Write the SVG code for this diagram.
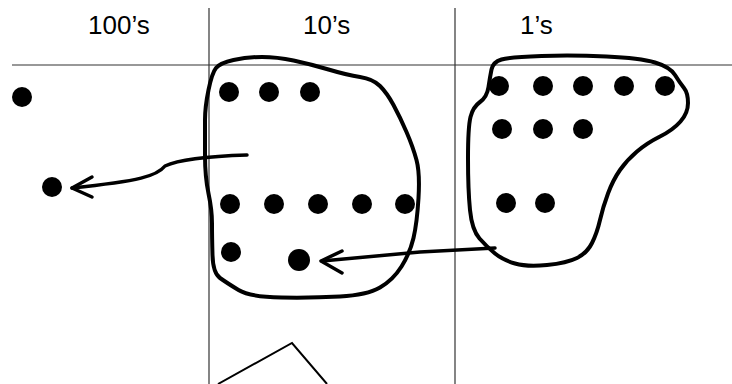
<svg xmlns="http://www.w3.org/2000/svg" width="732" height="384" viewBox="0 0 732 384">
<defs>
<style>
.grid{stroke:#333;stroke-width:1.2;fill:none}
.blob{stroke:#000;stroke-width:4;fill:none;stroke-linejoin:round;stroke-linecap:round}
.arrow{stroke:#000;stroke-width:3.5;fill:none;stroke-linejoin:round;stroke-linecap:round}
.dot{fill:#000}
.hdr{font-family:"Liberation Sans",Arial,sans-serif;font-size:26px;fill:#000}
</style>
</defs>
<rect width="732" height="384" fill="#fff"/>
<g id="grid">
<line class="grid" x1="12" y1="65" x2="732" y2="65"/>
<line class="grid" x1="209" y1="8" x2="209" y2="384"/>
<line class="grid" x1="455" y1="8" x2="455" y2="384"/>
</g>
<g id="headers">
<text class="hdr" x="88" y="34">100’s</text>
<text class="hdr" x="303" y="34">10’s</text>
<text class="hdr" x="520" y="34">1’s</text>
</g>
<g id="hundreds">
<circle class="dot" cx="22" cy="97" r="10"/>
<circle class="dot" cx="52" cy="187" r="10"/>
</g>
<g id="tens">
<path class="blob" d="M233.5,60 Q247,57 262,57 Q277,57 293.5,60.5 Q310,64 328.5,69.5 Q347,75 360,77 Q373,79 380,86 Q387,93 393.5,105 Q400,117 406.5,132 Q413,147 416.5,160 Q420,173 418.5,198 Q417,223 413.5,238 Q410,253 401.5,266.5 Q393,280 380,287.5 Q367,295 340,296.5 Q313,298 281.5,297.5 Q250,297 238.5,290 Q227,283 220,278 Q213,273 212.5,255 Q212,237 212,223.5 Q212,210 208.5,193.5 Q205,177 205,155 Q205,133 205,120 Q205,107 208.5,90 Q212,73 216,68 Q220,63 233.5,60 Z"/>
<circle class="dot" cx="229" cy="92" r="10"/>
<circle class="dot" cx="269" cy="92" r="10"/>
<circle class="dot" cx="310" cy="92" r="10"/>
<circle class="dot" cx="230" cy="204" r="10"/>
<circle class="dot" cx="274" cy="204" r="10"/>
<circle class="dot" cx="318" cy="204" r="10"/>
<circle class="dot" cx="362" cy="204" r="10"/>
<circle class="dot" cx="405" cy="204" r="10"/>
<circle class="dot" cx="231" cy="252" r="10"/>
<circle class="dot" cx="299" cy="260" r="11"/>
</g>
<g id="ones">
<path class="blob" d="M501.5,59.5 Q510,57 541.5,56 Q573,55 606.5,56.5 Q640,58 655,62.5 Q670,67 675,75 Q680,83 684,88 Q688,93 688,103 Q688,113 680.5,121.5 Q673,130 660,136.5 Q647,143 637,151.5 Q627,160 620,170 Q613,180 608,193.5 Q603,207 600,220 Q597,233 592,243 Q587,253 577,258 Q567,263 547,265 Q527,267 515,263.5 Q503,260 495,253.5 Q487,247 479.5,238.5 Q472,230 470,210 Q468,190 468,158.5 Q468,127 470.5,117 Q473,107 480,102 Q487,97 488.5,87 Q490,77 491.5,69.5 Q493,62 501.5,59.5 Z"/>
<circle class="dot" cx="499" cy="86" r="10"/>
<circle class="dot" cx="543" cy="86" r="10"/>
<circle class="dot" cx="583" cy="86" r="10"/>
<circle class="dot" cx="624" cy="86" r="10"/>
<circle class="dot" cx="665" cy="86" r="10"/>
<circle class="dot" cx="502" cy="129" r="10"/>
<circle class="dot" cx="543" cy="129" r="10"/>
<circle class="dot" cx="583" cy="129" r="10"/>
<circle class="dot" cx="506" cy="203" r="10"/>
<circle class="dot" cx="545" cy="203" r="10"/>
</g>
<g id="connectors">
<path class="arrow" d="M495,248 L420,252 L322,261"/>
<path class="arrow" d="M342,251 L321,261 L342,273"/>
<path class="arrow" d="M247,155 C215,156 180,159 165,166 C157,176 140,181 72,188"/>
<path class="arrow" d="M92,177 L72,188 L92,197"/>
</g>
<g id="triangle">
<path d="M218,384 L292,343 L327,384" stroke="#000" stroke-width="2" fill="none" stroke-linejoin="miter"/>
</g>
</svg>
